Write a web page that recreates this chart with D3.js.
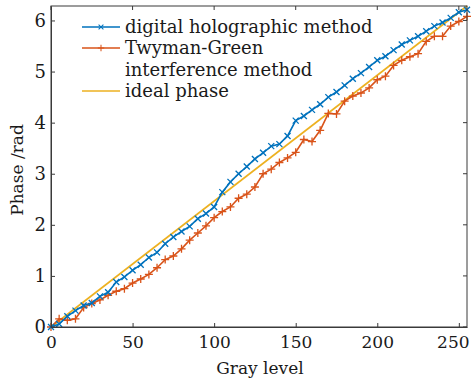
<!DOCTYPE html>
<html>
<head>
<meta charset="utf-8">
<script src="https://cdn.jsdelivr.net/npm/d3@7"></script>
<style>
  body { margin: 0; background: #fff; }
  svg text { font-family: "DejaVu Serif", serif; fill: #1a1a1a; }
</style>
</head>
<body>
<svg width="474" height="382"></svg>
<script>
// gray levels sampled every 5
const gray = [0,5,10,15,20,25,30,35,40,45,50,55,60,65,70,75,80,85,90,95,100,105,110,115,120,125,
  130,135,140,145,150,155,160,165,170,175,180,185,190,195,200,205,210,215,220,225,230,235,240,245,250,255];

const holo = [0,0.06,0.21,0.32,0.42,0.47,0.60,0.68,0.88,0.98,1.11,1.22,1.36,1.46,1.63,1.76,1.87,1.97,2.12,2.22,
  2.35,2.64,2.84,3.00,3.14,3.29,3.41,3.54,3.58,3.74,4.04,4.13,4.25,4.36,4.50,4.60,4.73,4.86,4.97,5.09,
  5.22,5.30,5.42,5.53,5.61,5.69,5.79,5.89,5.96,6.05,6.16,6.21];

const twyman = [0,0.16,0.13,0.16,0.38,0.46,0.53,0.62,0.70,0.75,0.86,0.94,1.03,1.16,1.32,1.39,1.53,1.70,1.84,1.98,
  2.14,2.26,2.35,2.52,2.60,2.74,3.00,3.09,3.22,3.31,3.42,3.67,3.63,3.85,4.18,4.17,4.42,4.52,4.58,4.68,
  4.84,4.91,5.12,5.22,5.29,5.35,5.59,5.69,5.69,5.89,5.98,6.08];

const idealX = [0, 255];
const idealY = [0, 2 * Math.PI];

const xTicks = [0, 50, 100, 150, 200, 250];
const yTicks = [0, 1, 2, 3, 4, 5, 6];

const legendNames = ["digital holographic method", ["Twyman-Green", "interference method"], "ideal phase"];

const blue = "#0072BD", red = "#D95319", gold = "#EDB120";

var margin = {left: 51, right: 7, top: 6, bottom: 55};
var width = 474, height = 382;

const svg = d3.select("svg");

const x = d3.scaleLinear().domain([0, 255]).range([margin.left, width - margin.right]);
const y = d3.scaleLinear().domain([0, 2 * Math.PI]).range([height - margin.bottom, margin.top]);

const line = d3.line().x(d => x(d[0])).y(d => y(d[1]));

// ideal phase
svg.append("path")
    .datum(idealX.map((v, i) => [v, idealY[i]]))
    .attr("d", line)
    .attr("fill", "none")
    .attr("stroke", gold)
    .attr("stroke-width", 1.6);

function series(vals, color, marker) {
  let pts = gray.map((g, i) => [g, vals[i]]);
  svg.append("path")
      .datum(pts)
      .attr("d", line)
      .attr("fill", "none")
      .attr("stroke", color)
      .attr("stroke-width", 1.6);
  svg.append("g")
    .selectAll("path")
    .data(pts)
    .join("path")
      .attr("transform", d => "translate(" + x(d[0]) + "," + y(d[1]) + ")")
      .attr("d", marker)
      .attr("stroke", color)
      .attr("stroke-width", 1.3)
      .attr("fill", "none");
}

const xMark = "M-3,-3L3,3M-3,3L3,-3";
const plusMark = "M-4,0L4,0M0,-4L0,4";

series(twyman, red, plusMark);
series(holo, blue, xMark);

// axes box
const axisColor = "#3a3a3a";
svg.append("rect")
    .attr("x", x(0)).attr("y", y(2 * Math.PI))
    .attr("width", x(255) - x(0)).attr("height", y(0) - y(2 * Math.PI))
    .attr("fill", "none").attr("stroke", axisColor).attr("stroke-width", 1);

const xAxis = svg.append("g")
    .attr("transform", "translate(0," + y(0) + ")")
    .call(d3.axisBottom(x).tickValues(xTicks).tickFormat(d3.format("d")).tickSizeInner(-4).tickSizeOuter(0).tickPadding(9));
const yAxis = svg.append("g")
    .attr("transform", "translate(" + x(0) + ",0)")
    .call(d3.axisLeft(y).tickValues(yTicks).tickFormat(d3.format("d")).tickSizeInner(-4).tickSizeOuter(0).tickPadding(5));

[xAxis, yAxis].forEach(a => {
  a.select(".domain").attr("stroke", axisColor);
  a.selectAll(".tick line").attr("stroke", axisColor);
  a.selectAll(".tick text").attr("font-size", 17).attr("font-family", "DejaVu Serif").attr("fill", "#1a1a1a");
});
yAxis.selectAll(".tick text").attr("font-size", 18);
// last label pulled in so it stays inside the figure
xAxis.selectAll(".tick text").filter(d => d === 250).attr("dx", -6);

// mirrored ticks on top and right
svg.append("g").selectAll("line").data(xTicks).join("line")
    .attr("x1", d => x(d)).attr("x2", d => x(d))
    .attr("y1", y(2 * Math.PI)).attr("y2", y(2 * Math.PI) + 4)
    .attr("stroke", axisColor);
svg.append("g").selectAll("line").data(yTicks).join("line")
    .attr("y1", d => y(d)).attr("y2", d => y(d))
    .attr("x1", x(255)).attr("x2", x(255) - 4)
    .attr("stroke", axisColor);

svg.append("text")
    .attr("x", 260).attr("y", 374)
    .attr("text-anchor", "middle").attr("font-size", 17)
    .text("Gray level");

svg.append("text")
    .attr("transform", "translate(23,170) rotate(-90)")
    .attr("text-anchor", "middle").attr("font-size", 17)
    .text("Phase /rad");

// legend
const leg = svg.append("g");
const rows = [
  {y: 27, color: blue, marker: xMark, text: legendNames[0]},
  {y: 48, color: red, marker: plusMark, text: legendNames[1][0]},
  {y: null, color: null, marker: null, text: legendNames[1][1], ty: 70},
  {y: 91, color: gold, marker: null, text: legendNames[2]}
];
rows.forEach(r => {
  let ty = r.y !== null ? r.y : r.ty;
  if (r.color) {
    leg.append("line").attr("x1", 82).attr("x2", 120).attr("y1", ty).attr("y2", ty)
        .attr("stroke", r.color).attr("stroke-width", 1.6);
    if (r.marker) {
      leg.append("path").attr("d", r.marker).attr("transform", "translate(101," + ty + ") scale(0.8)")
          .attr("stroke", r.color).attr("stroke-width", 1.3).attr("fill", "none");
    }
  }
  leg.append("text").attr("x", 125).attr("y", ty + 6).attr("font-size", 18).text(r.text);
});
</script>
</body>
</html>
